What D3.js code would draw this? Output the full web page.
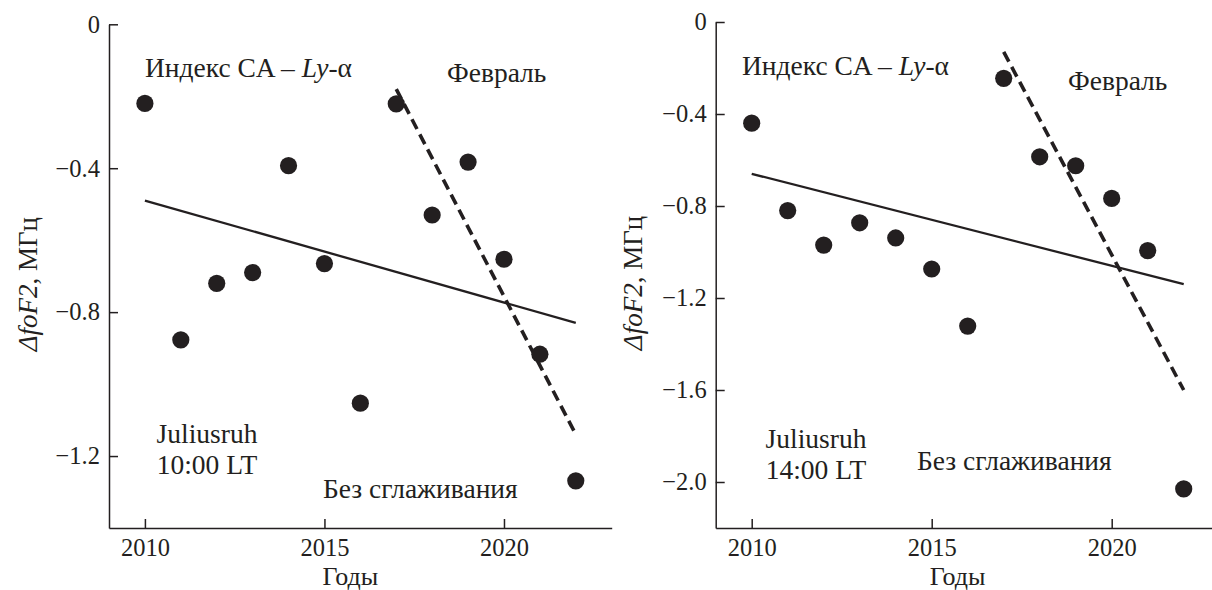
<!DOCTYPE html>
<html lang="ru">
<head>
    <meta charset="UTF-8">
    <title>ΔfoF2 Juliusruh</title>
    <script src="https://d3js.org/d3.v7.min.js"></script>
    <style>
        body { margin: 0; background: #fff; }
        svg { display: block; font-family: "Liberation Serif", "Times New Roman", serif; }
        .axis path, .axis line { stroke: #231f20; stroke-width: 1.5px; }
        .axis text { font-size: 24.5px; fill: #231f20; font-family: "Liberation Serif", "Times New Roman", serif; }
    </style>
</head>
<body>
<div id="chart"></div>
<script>
    // data
    const years = [2010, 2011, 2012, 2013, 2014, 2015, 2016, 2017, 2018, 2019, 2020, 2021, 2022];
    const dfoF2_10LT = [-0.22, -0.877, -0.72, -0.69, -0.393, -0.665, -1.053, -0.221, -0.53, -0.383, -0.653, -0.917, -1.269];
    const dfoF2_14LT = [-0.44, -0.82, -0.97, -0.873, -0.939, -1.074, -1.322, -0.245, -0.586, -0.625, -0.767, -0.994, -2.03];

    const trendYears = [2010, 2022];
    const trend10 = [-0.49, -0.83];
    const trend14 = [-0.66, -1.14];
    const febYears = [2017, 2022];
    const feb10 = [-0.18, -1.14];
    const feb14 = [-0.13, -1.60];

    const xTicks = [2010, 2015, 2020];
    const yTicks10 = [0, -0.4, -0.8, -1.2];
    const yTicks14 = [0, -0.4, -0.8, -1.2, -1.6, -2.0];

    const width = 1212, height = 590;
    const ink = "#231f20";

    const svg = d3.select("#chart").append("svg")
        .attr("width", width)
        .attr("height", height);

    const panels = [
        {
            values: dfoF2_10LT, trend: trend10, feb: feb10, yTicks: yTicks10,
            yDomain: [-1.4, 0], left: 109, right: 611.7, top: 24.3, bottom: 528,
            ylabelX: 37, titleX: 145, titleY: 77, febX: 447, febY: 82,
            stX: 207, stY: 443, methodX: 323, methodY: 498, time: "10:00 LT"
        },
        {
            values: dfoF2_14LT, trend: trend14, feb: feb14, yTicks: yTicks14,
            yDomain: [-2.2, 0], left: 715.7, right: 1219.7, top: 22, bottom: 528,
            ylabelX: 642, titleX: 742, titleY: 75, febX: 1068, febY: 90,
            stX: 816, stY: 448, methodX: 917, methodY: 470, time: "14:00 LT"
        }
    ];

    const fmt = d => d === 0 ? "0" : "\u2212" + Math.abs(d).toFixed(1);

    panels.forEach(p => {
        const x = d3.scaleLinear().domain([2009, 2023]).range([p.left, p.right]);
        const y = d3.scaleLinear().domain(p.yDomain).range([p.bottom, p.top]);
        const g = svg.append("g");

        g.append("g")
            .attr("class", "axis")
            .attr("transform", `translate(0,${p.bottom})`)
            .call(d3.axisBottom(x).tickValues(xTicks).tickFormat(d3.format("d"))
                .tickSizeInner(-9).tickSizeOuter(0).tickPadding(11));

        g.append("g")
            .attr("class", "axis")
            .attr("transform", `translate(${p.left},0)`)
            .call(d3.axisLeft(y).tickValues(p.yTicks).tickFormat(fmt)
                .tickSizeInner(-9).tickSizeOuter(0).tickPadding(9));

        const line = d3.line().x(d => x(d[0])).y(d => y(d[1]));

        g.append("path")
            .datum(d3.zip(trendYears, p.trend))
            .attr("d", line)
            .attr("fill", "none")
            .attr("stroke", ink)
            .attr("stroke-width", 2.3);

        g.append("path")
            .datum(d3.zip(febYears, p.feb))
            .attr("d", line)
            .attr("fill", "none")
            .attr("stroke", ink)
            .attr("stroke-width", 3.6)
            .attr("stroke-dasharray", "11,6");

        g.selectAll("circle")
            .data(d3.zip(years, p.values))
            .join("circle")
            .attr("cx", d => x(d[0]))
            .attr("cy", d => y(d[1]))
            .attr("r", 8.6)
            .attr("fill", ink);

        const txt = (tx, ty, s) => g.append("text")
            .attr("x", tx).attr("y", ty)
            .attr("font-size", 27.5)
            .attr("fill", ink)
            .text(s);

        const title = txt(p.titleX, p.titleY, "Индекс CA \u2013 ");
        title.append("tspan").attr("font-style", "italic").text("Ly");
        title.append("tspan").text("-\u03b1");

        txt(p.febX, p.febY, "Февраль");
        txt(p.methodX, p.methodY, "Без сглаживания");
        txt(p.stX, p.stY, "Juliusruh").attr("text-anchor", "middle");
        txt(p.stX, p.stY + 31, p.time).attr("text-anchor", "middle");

        txt((p.left + p.right) / 2 - 10, 585, "Годы")
            .attr("font-size", 26)
            .attr("text-anchor", "middle");

        const yl = g.append("text")
            .attr("transform", `translate(${p.ylabelX},${(p.top + p.bottom) / 2 + 8}) rotate(-90)`)
            .attr("text-anchor", "middle")
            .attr("font-size", 27)
            .attr("fill", ink);
        yl.append("tspan").attr("font-style", "italic").text("\u0394foF2");
        yl.append("tspan").text(", МГц");
    });
</script>
</body>
</html>
